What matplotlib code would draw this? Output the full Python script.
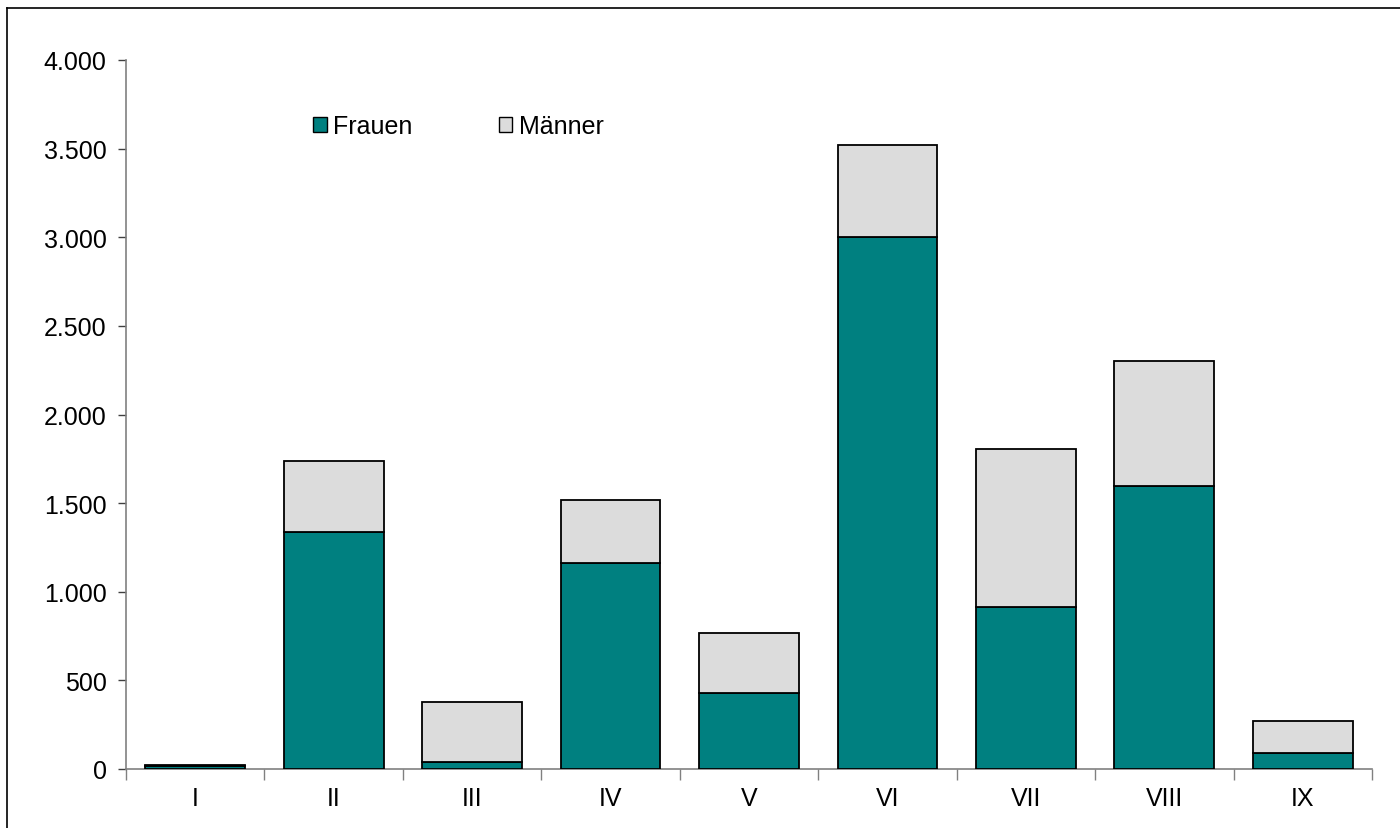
import matplotlib
matplotlib.use("Agg")
import matplotlib.pyplot as plt
from matplotlib.lines import Line2D
from matplotlib.patches import Patch
from matplotlib.ticker import FuncFormatter, FixedLocator
import numpy as np

categories = ["I", "II", "III", "IV", "V", "VI", "VII", "VIII", "IX"]
frauen = [18, 1335, 37, 1160, 428, 3000, 912, 1598, 89]
maenner = [7, 400, 341, 355, 338, 522, 892, 706, 181]
yticks = [0, 500, 1000, 1500, 2000, 2500, 3000, 3500, 4000]

plt.rcParams['font.family'] = ['Liberation Sans', 'DejaVu Sans']

W, H = 1400, 829
fig = plt.figure(figsize=(W / 100, H / 100), dpi=100)
fig.patch.set_facecolor('white')

left, right, top, bottom = 126, 1372, 61, 770
ax = fig.add_axes([left / W, 1 - bottom / H, (right - left) / W, (bottom - top) / H])

teal = '#008080'
grey = '#DCDCDC'
x = np.arange(len(categories))
ax.bar(x, frauen, width=0.72, color=teal, edgecolor='black', linewidth=1.3, label='Frauen', zorder=3)
ax.bar(x, maenner, width=0.72, bottom=frauen, color=grey, edgecolor='black', linewidth=1.3,
       label='Männer', zorder=3)

ax.set_xlim(-0.5, len(categories) - 0.5)
ax.set_ylim(0, 4000)

for s in ['top', 'right']:
    ax.spines[s].set_visible(False)
for s in ['left', 'bottom']:
    ax.spines[s].set_color('#808080')
    ax.spines[s].set_linewidth(1.2)

ax.set_yticks(yticks)
ax.yaxis.set_major_formatter(FuncFormatter(lambda v, p: f"{int(v):,}".replace(",", ".")))
ax.tick_params(axis='y', direction='out', length=6, width=1.0, color='#404040',
               labelsize=18, pad=8, labelcolor='black')

ax.set_xticks(x)
ax.set_xticklabels(categories)
ax.tick_params(axis='x', which='major', length=0, labelsize=18, pad=12, labelcolor='black')
ax.xaxis.set_minor_locator(FixedLocator(np.arange(-0.5, len(categories), 1.0)))
ax.tick_params(axis='x', which='minor', direction='out', length=8, width=1.0, color='#808080')

handles = [Patch(facecolor=teal, edgecolor='black', linewidth=1.0),
           Patch(facecolor=grey, edgecolor='black', linewidth=1.0)]
leg = fig.legend(handles, ['Frauen', 'Männer'], loc='center left',
                 bbox_to_anchor=(313 / W, 1 - 127 / H), ncol=2, frameon=False,
                 fontsize=18, handlelength=0.55, handleheight=0.55, handletextpad=0.25,
                 columnspacing=3.45, borderpad=0, borderaxespad=0)

# outer border (top and left lines)
fig.add_artist(Line2D([7 / W, 1.0], [1 - 9 / H, 1 - 9 / H], transform=fig.transFigure,
                      color='black', linewidth=1.2))
fig.add_artist(Line2D([7 / W, 7 / W], [0.0, 1 - 9 / H], transform=fig.transFigure,
                      color='black', linewidth=1.2))

fig.savefig('out.png', dpi=100, facecolor='white')
